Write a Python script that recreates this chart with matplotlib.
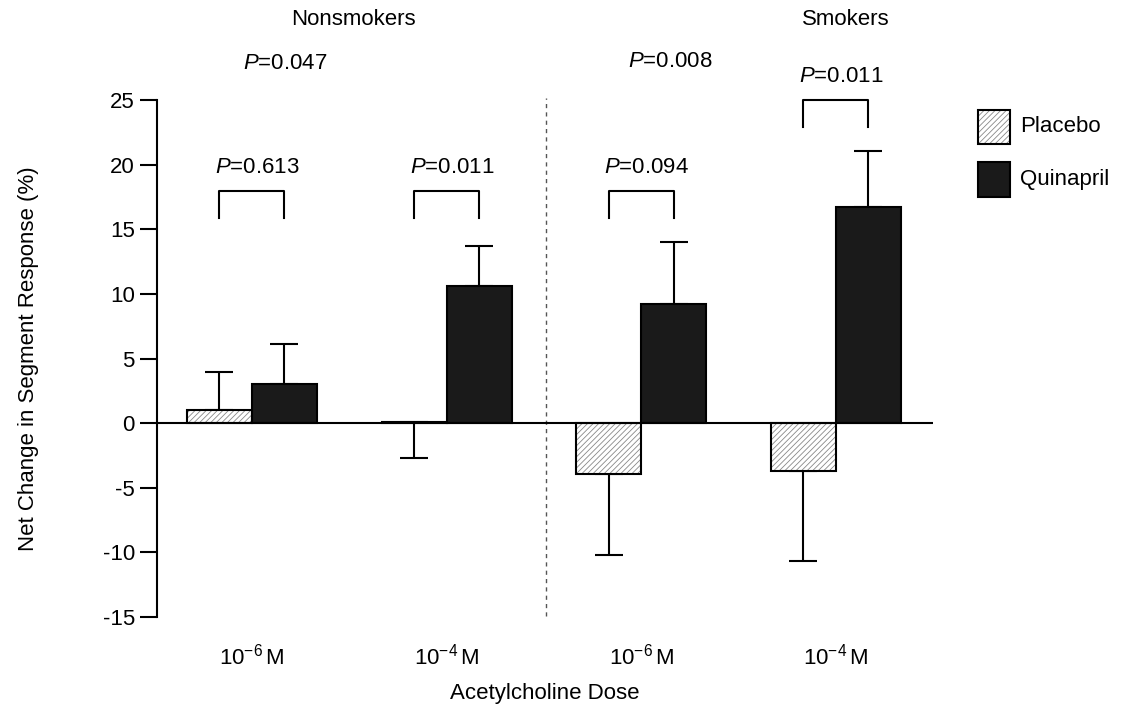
import matplotlib
matplotlib.use("Agg")
import matplotlib.pyplot as plt
from matplotlib.patches import Rectangle
import numpy as np

plt.rcParams['font.family'] = ['Liberation Sans', 'DejaVu Sans']
plt.rcParams['mathtext.fontset'] = 'custom'
plt.rcParams['mathtext.rm'] = 'Liberation Sans'
plt.rcParams['mathtext.it'] = 'Liberation Sans:italic'
plt.rcParams['axes.unicode_minus'] = False
plt.rcParams['hatch.linewidth'] = 0.6

# ---- data ----
categories = ['10$^{\\mathregular{-6}}\\,$M', '10$^{\\mathregular{-4}}\\,$M',
              '10$^{\\mathregular{-6}}\\,$M', '10$^{\\mathregular{-4}}\\,$M']
groups = ['Nonsmokers', 'Smokers']
placebo = [1.0, 0.1, -3.9, -3.7]
placebo_err_lo = [0.0, 2.8, 6.3, 7.0]
placebo_err_hi = [2.95, 0.0, 0.0, 0.0]
quinapril = [3.0, 10.6, 9.2, 16.7]
quinapril_err = [3.1, 3.1, 4.8, 4.35]
pair_p = ['0.613', '0.011', '0.094', '0.011']
group_p = ['0.047', '0.008']
yticks = [-15, -10, -5, 0, 5, 10, 15, 20, 25]

FS = 16

fig = plt.figure(figsize=(11.4, 7.15), dpi=100)
ax = fig.add_axes([0.1377, 0.137, 0.6807, 0.723])

x = np.arange(len(categories))
w = 0.334
xp = x - w / 2
xq = x + w / 2

# placebo: hatched fill then outline
ax.bar(xp, placebo, w, color='white', edgecolor='#888888', hatch='//////', linewidth=0, zorder=2)
ax.bar(xp, placebo, w, color='none', edgecolor='black', linewidth=1.5, zorder=3)
ax.bar(xq, quinapril, w, color='#1a1a1a', edgecolor='black', linewidth=1.5, zorder=3)

ax.errorbar(xp, placebo, yerr=[placebo_err_lo, placebo_err_hi], fmt='none',
            ecolor='black', elinewidth=1.5, capsize=10, capthick=1.5, zorder=1)
ax.errorbar(xq, quinapril, yerr=[[0] * 4, quinapril_err], fmt='none',
            ecolor='black', elinewidth=1.5, capsize=10, capthick=1.5, zorder=1)

ax.axhline(0, color='black', lw=1.5, zorder=4)

# brackets for pairwise P values
br_lo = [15.9, 15.9, 15.9, 22.9]
br_hi = [18.0, 18.0, 18.0, 25.0]
for i in range(4):
    xl, xr = xp[i], xq[i]
    ax.plot([xl, xl, xr, xr], [br_lo[i], br_hi[i], br_hi[i], br_lo[i]],
            color='black', lw=1.5, clip_on=False)
    ax.text((xl + xr) / 2 + 0.03, br_hi[i] + 1.0, '$P$=' + pair_p[i], ha='center',
            va='bottom', fontsize=FS, clip_on=False)

# group P values
ax.text(0.17, 27.85, '$P$=' + group_p[0], ha='center', va='center', fontsize=FS)
ax.text(2.15, 28.0, '$P$=' + group_p[1], ha='center', va='center', fontsize=FS)

# group titles
ax.text(0.52, 31.2, groups[0], ha='center', va='center', fontsize=FS)
ax.text(3.05, 31.2, groups[1], ha='center', va='center', fontsize=FS)

# dashed separator
ax.plot([1.51, 1.51], [-14.9, 25.2], color='#555555', lw=1, ls=(0, (3, 3)), clip_on=False)

ax.set_xlim(-0.488, 3.50)
ax.set_ylim(-15, 25)
ax.set_yticks(yticks)
ax.set_yticklabels([str(t) for t in yticks], fontsize=FS)
ax.set_xticks(x)
ax.set_xticklabels(categories, fontsize=FS)
ax.tick_params(axis='x', length=0, pad=19)
ax.tick_params(axis='y', length=12, width=1.5, direction='out', pad=4)
for s in ['top', 'right', 'bottom']:
    ax.spines[s].set_visible(False)
ax.spines['left'].set_linewidth(1.5)

ax.set_xlabel('Acetylcholine Dose', fontsize=FS, labelpad=10)
ax.set_ylabel('Net Change in Segment Response (%)', fontsize=FS, labelpad=46)

# legend
W, H = 1140, 715
fig.add_artist(Rectangle((978 / W, 1 - 144 / H), 32 / W, 34 / H, transform=fig.transFigure,
                         facecolor='white', edgecolor='#888888', hatch='//////', lw=0))
fig.add_artist(Rectangle((978 / W, 1 - 144 / H), 32 / W, 34 / H, transform=fig.transFigure,
                         facecolor='none', edgecolor='black', lw=1.5))
fig.add_artist(Rectangle((978 / W, 1 - 197 / H), 32 / W, 35 / H, transform=fig.transFigure,
                         facecolor='#1a1a1a', edgecolor='black', lw=1.5))
fig.text(1020 / W, 1 - 127 / H, 'Placebo', fontsize=FS, va='center')
fig.text(1020 / W, 1 - 180 / H, 'Quinapril', fontsize=FS, va='center')

fig.savefig('out.png', dpi=100)
